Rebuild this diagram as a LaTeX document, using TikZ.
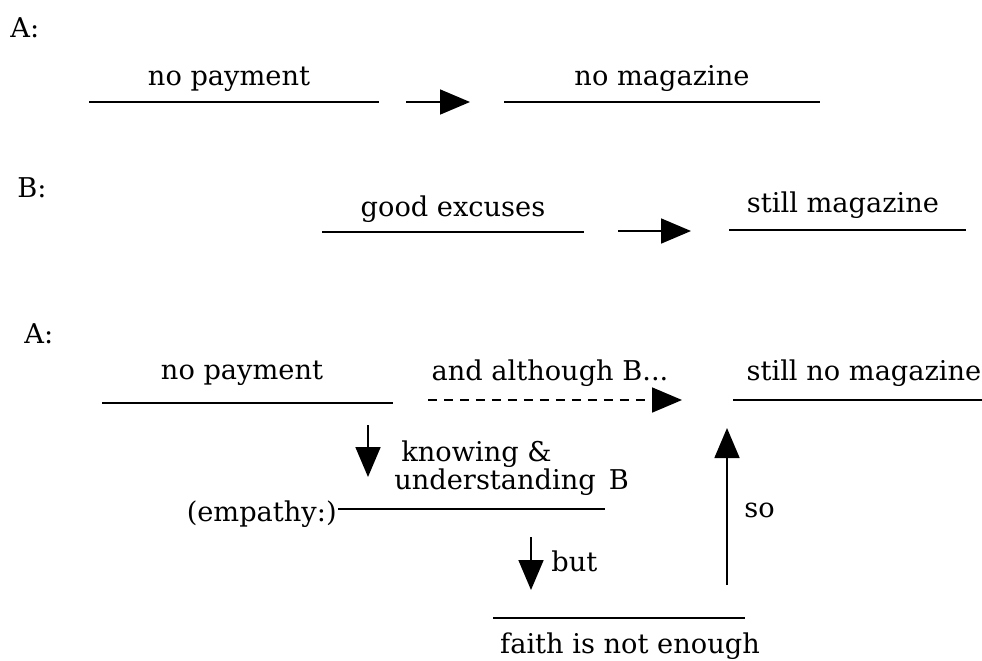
\documentclass[tikz,border=0pt]{standalone}
\usepackage{fontspec}
\setmainfont{DejaVu Serif}
\usetikzlibrary{arrows.meta}

\begin{document}
\begin{tikzpicture}[x=0.02cm, y=-0.02cm, % one unit is one pixel of the sketch
    font=\fontsize{15.5}{16}\selectfont,
    txt/.style={inner sep=0pt, anchor=base},
    uline/.style={line width=1.1pt},
    pointer/.style={line width=1pt, -{Triangle[length=0.6cm,width=0.5cm]}}]
\useasboundingbox (0,0) rectangle (982,660);

% First row: A
\node[txt, anchor=base west] (labA1) at (10,37) {A:};
\coordinate (pay1L) at (89,102);
\coordinate (pay1R) at (379,102);
\coordinate (mag1L) at (504,102);
\coordinate (mag1R) at (820,102);
\coordinate (arr1s) at (406,102);
\coordinate (arr1e) at (470,102);
\draw[uline] (pay1L) -- (pay1R);
\draw[uline] (mag1L) -- (mag1R);
\node[txt] (pay1) at (229,85) {no payment};
\node[txt] (mag1) at (662,85) {no magazine};
\draw[pointer] (arr1s) -- (arr1e);

% Second row: B
\node[txt, anchor=base west] (labB) at (17,197) {B:};
\coordinate (excL) at (322,232);
\coordinate (excR) at (584,232);
\coordinate (mag2L) at (729,230);
\coordinate (mag2R) at (966,230);
\coordinate (arr2s) at (618,231);
\coordinate (arr2e) at (691,231);
\draw[uline] (excL) -- (excR);
\draw[uline] (mag2L) -- (mag2R);
\node[txt] (exc) at (453,216) {good excuses};
\node[txt] (mag2) at (843,212) {still magazine};
\draw[pointer] (arr2s) -- (arr2e);

% Third row: A again
\node[txt, anchor=base west] (labA2) at (24,343) {A:};
\coordinate (pay3L) at (102,403);
\coordinate (pay3R) at (393,403);
\coordinate (mag3L) at (733,400);
\coordinate (mag3R) at (982,400);
\coordinate (dashs) at (428,400);
\coordinate (dashe) at (682,400);
\draw[uline] (pay3L) -- (pay3R);
\draw[uline] (mag3L) -- (mag3R);
\node[txt] (pay3) at (242,379) {no payment};
\node[txt] (although) at (550,380) {and although B...};
\node[txt] (mag3) at (864,380) {still no magazine};
\draw[pointer, dash pattern=on 0.18cm off 0.14cm] (dashs) -- (dashe);

% Empathy branch
\coordinate (know s) at (368,425);
\coordinate (know e) at (368,477);
\draw[pointer] (know s) -- (know e);
\node[txt, anchor=base west] (know1) at (401,461) {knowing \&};
\node[txt, anchor=base west] (know2) at (394,489) {understanding\, B};
\coordinate (empL) at (338,509);
\coordinate (empR) at (605,509);
\draw[uline] (empL) -- (empR);
\node[txt, anchor=base east] (emp) at (337,521) {(empathy:)};

% but ... so
\coordinate (but s) at (531,537);
\coordinate (but e) at (531,590);
\draw[pointer] (but s) -- (but e);
\node[txt, anchor=base west] (but) at (551,571) {but};
\coordinate (faithL) at (493,618);
\coordinate (faithR) at (745,618);
\draw[uline] (faithL) -- (faithR);
\node[txt] (faith) at (630,653) {faith is not enough};
\coordinate (so s) at (727,585);
\coordinate (so e) at (727,428);
\draw[pointer] (so s) -- (so e);
\node[txt, anchor=base west] (so) at (744,517) {so};
\end{tikzpicture}
\end{document}
